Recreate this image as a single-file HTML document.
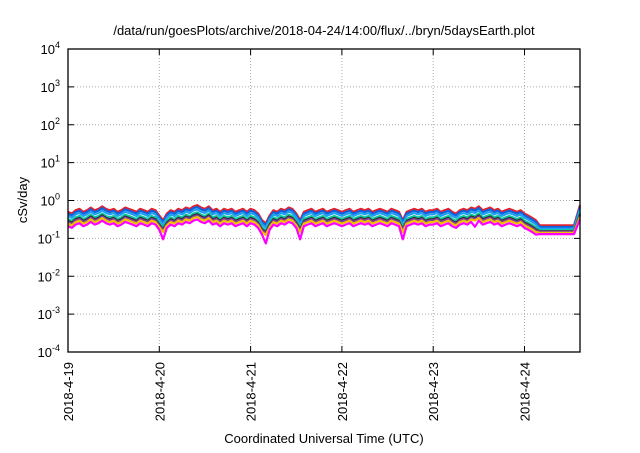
<!DOCTYPE html>
<html><head><meta charset="utf-8"><style>
body{margin:0;background:#fff;}
svg text{font-family:"Liberation Sans",sans-serif;}
</style></head><body>
<svg id="c" width="640" height="448" xmlns="http://www.w3.org/2000/svg">
<text x="324" y="35" text-anchor="middle" font-size="13">/data/run/goesPlots/archive/2018-04-24/14:00/flux/../bryn/5daysEarth.plot</text>
<text transform="translate(27,200) rotate(-90)" text-anchor="middle" font-size="13">cSv/day</text>
<text x="324" y="443" text-anchor="middle" font-size="13">Coordinated Universal Time (UTC)</text>
<g id="grid"></g><g id="series"></g><g id="axes"></g>
</svg>
<script>
const dayLabels=["2018-4-19","2018-4-20","2018-4-21","2018-4-22","2018-4-23","2018-4-24"];
const decades=[-4,-3,-2,-1,0,1,2,3,4];
const redValues=[
0.5,0.45,0.55,0.6,0.5,0.55,0.65,0.55,0.6,0.7,0.6,0.55,0.6,0.5,0.55,0.65,0.6,0.55,0.5,0.6,0.55,0.5,0.6,0.55,
0.4,0.3,0.45,0.55,0.5,0.6,0.55,0.65,0.6,0.7,0.75,0.65,0.6,0.7,0.55,0.6,0.5,0.6,0.55,0.6,0.5,0.55,0.6,0.5,
0.6,0.55,0.45,0.3,0.25,0.4,0.55,0.5,0.6,0.55,0.65,0.6,0.45,0.3,0.5,0.55,0.6,0.5,0.55,0.6,0.5,0.55,0.6,0.55,
0.5,0.55,0.6,0.5,0.55,0.6,0.55,0.6,0.5,0.55,0.6,0.55,0.5,0.6,0.55,0.5,0.3,0.5,0.55,0.6,0.55,0.6,0.5,0.55,
0.55,0.6,0.5,0.55,0.6,0.5,0.45,0.55,0.6,0.55,0.65,0.6,0.7,0.55,0.6,0.65,0.55,0.6,0.5,0.55,0.6,0.55,0.5,0.55,
0.45,0.4,0.35,0.3,0.22,0.22,0.22,0.22,0.22,0.22,0.22,0.22,0.22,0.22,0.75];
const flatStart=124,flatEnd=133;
const seriesNames=["red","blue","light-blue","teal","black","purple","yellow","magenta"];
const seriesColors=["#e8202a","#1060e0","#20a0f0","#10c8a0","#303030","#8040a0","#f0c000","#ff00ff"];
const seriesFactors=[1,0.9,0.78,0.65,0.58,0.54,0.49,0.42];
const flatValues=[0.22,0.2,0.18,0.165,0.155,0.15,0.14,0.13];
const magentaDips=[{i:25,f:0.75},{i:52,f:0.7},{i:61,f:0.75},{i:88,f:0.75},{i:107,f:0.8}];
const L=68,R=580,T=49,B=352,dayW=91.3;
const X=d=>Math.min(R,L+d*dayW);
const Y=v=>B-(Math.log10(v)+4)*(B-T)/8;
const NS="http://www.w3.org/2000/svg";
function mk(tag,attrs,parent){const e=document.createElementNS(NS,tag);for(const k in attrs)e.setAttribute(k,attrs[k]);parent.appendChild(e);return e;}
const grid=document.getElementById('grid'),axes=document.getElementById('axes'),ser=document.getElementById('series');
decades.forEach(p=>{const y=Y(Math.pow(10,p));
 if(p>-4&&p<4){const g=mk('line',{x1:L,x2:R,y1:y,y2:y,stroke:'#aaa','stroke-dasharray':'1,2','stroke-width':1},grid);}
 const tk=mk('line',{x1:L,x2:L+6,y1:y,y2:y,stroke:'#000'},axes);
 const tk2=mk('line',{x1:R-6,x2:R,y1:y,y2:y,stroke:'#000'},axes);
 const t=mk('text',{x:L-8,y:y+5,'text-anchor':'end','font-size':13},axes);
 t.textContent='10';const s=mk('tspan',{dy:-6,'font-size':9},t);s.textContent=String(p);
});
dayLabels.forEach((lab,i)=>{const x=X(i);
 if(i>0){const g=mk('line',{x1:x,x2:x,y1:T,y2:B,stroke:'#aaa','stroke-dasharray':'1,2'},grid);}
 const tk=mk('line',{x1:x,x2:x,y1:B-6,y2:B,stroke:'#000'},axes);
 const tk2=mk('line',{x1:x,x2:x,y1:T,y2:T+6,stroke:'#000'},axes);
 const t=mk('text',{transform:`translate(${x+5},${B+10}) rotate(-90)`,'text-anchor':'end','font-size':13},axes);t.textContent=lab;
});
const fr=mk('rect',{x:L,y:T,width:R-L,height:B-T,fill:'none',stroke:'#000','stroke-width':1.3},axes);

seriesNames.forEach((nm,si)=>{
 const pts=redValues.map((v,i)=>{let val=(i>=flatStart&&i<=flatEnd)?flatValues[si]:v*seriesFactors[si];
  if(si===7){const d=magentaDips.find(m=>m.i===i);if(d)val*=d.f;}
  const day=i===redValues.length-1?5.61:i/24;
  return X(day).toFixed(1)+','+Y(val).toFixed(1);});
 const pl=mk('polyline',{points:pts.join(' '),fill:'none',stroke:seriesColors[si],'stroke-width':2.2,'stroke-linejoin':'round'},ser);
 
});
</script>
</body></html>
